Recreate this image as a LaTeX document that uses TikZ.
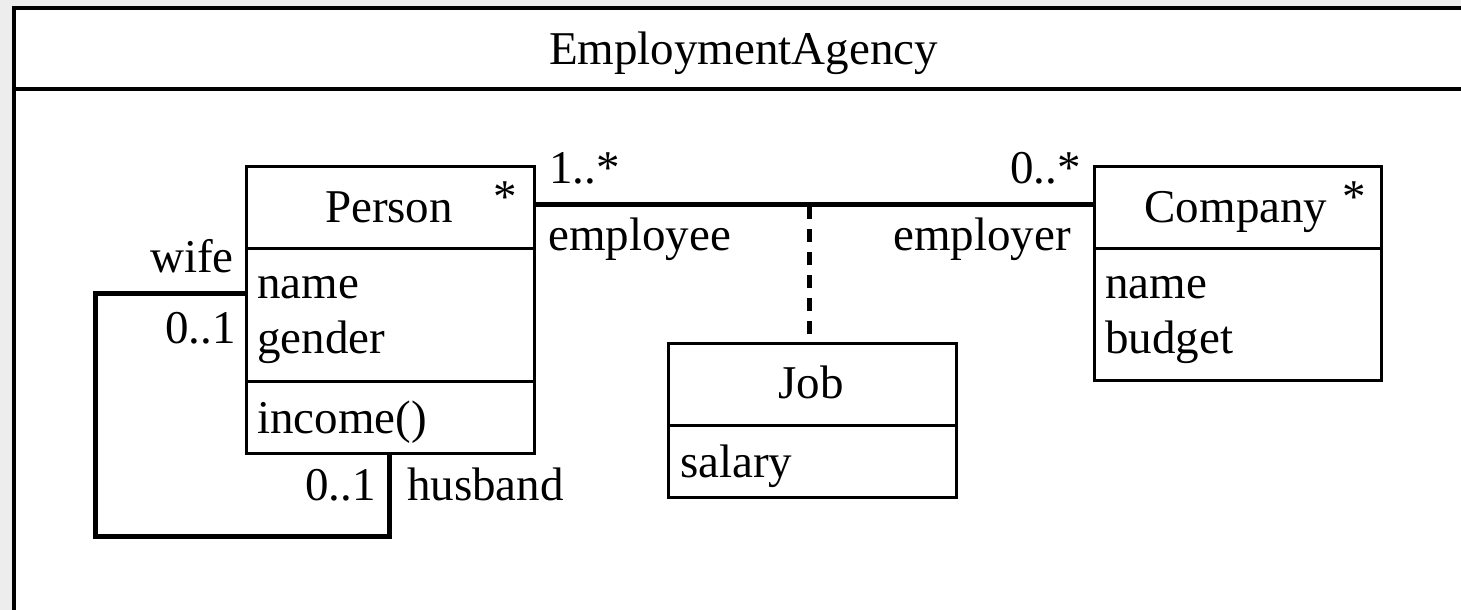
\documentclass[tikz,border=0pt]{standalone}
\usepackage{fontspec}
\setmainfont{Liberation Serif}

\begin{document}
\begin{tikzpicture}[x=1pt,y=-1pt,
  font=\fontsize{47}{56}\selectfont,
  comp/.style={draw, line width=3.2pt, inner sep=0pt, anchor=north west},
  classname/.style={anchor=base, inner sep=0pt},
  attr/.style={anchor=base west, inner sep=0pt},
  endlbl/.style={inner sep=0pt},
  assoc/.style={line width=5pt},
  loopline/.style={line width=5pt, line join=miter},
  attachline/.style={line width=5pt, dash pattern=on 13pt off 10pt},
  framestroke/.style={line width=4pt}]

\useasboundingbox (0,0) rectangle (1461,610);

% sheet and diagram frame
\fill[black!7] (0,0) rectangle (1461,610);
\fill[white] (13.5,8) rectangle (1470,620);
\draw[framestroke] (1470,8) -- (13.5,8) -- (13.5,620);
\draw[framestroke] (13.5,89) -- (1470,89);
\node[classname] (agency) at (743.5,65) {EmploymentAgency};

% class Person
\node[comp, minimum width=288pt, minimum height=81.5pt] (personhead) at (245,165) {};
\node[comp, minimum width=288pt, minimum height=133.5pt] (personattr) at (245,246.5) {};
\node[comp, minimum width=288pt, minimum height=72pt] (personops) at (245,380) {};
\node[classname] (personname) at (389,222) {Person};
\node[classname] (personstar) at (505,212) {*};
\node[attr] (personname1) at (257,298) {name};
\node[attr] (persongender) at (257,353) {gender};
\node[attr] (personincome) at (257,433) {income()};

% class Company
\node[comp, minimum width=287pt, minimum height=82pt] (companyhead) at (1093,165) {};
\node[comp, minimum width=287pt, minimum height=132pt] (companyattr) at (1093,247) {};
\node[classname] (companyname) at (1236,222) {Company};
\node[classname] (companystar) at (1354,212) {*};
\node[attr] (companyname1) at (1105,298) {name};
\node[attr] (companybudget) at (1105,353) {budget};

% association class Job
\node[comp, minimum width=288pt, minimum height=82pt] (jobhead) at (667,342) {};
\node[comp, minimum width=288pt, minimum height=72pt] (jobattr) at (667,424) {};
\node[classname] (jobname) at (811,398) {Job};
\node[attr] (jobsalary) at (680,477) {salary};

% employment association and its class attachment
\draw[assoc] (personhead.east |- 0,204) -- (companyhead.west |- 0,204);
\draw[attachline] (809,206) -- (809,0 |- jobhead.north);

% marriage self-association
\draw[loopline] (personattr.west |- 0,293) -- (95,293) -- (95,536) -- (389,536)
  -- (389,0 |- personops.south);

% association end labels
\node[endlbl, anchor=base west] (emult) at (549,183) {1..*};
\node[endlbl, anchor=base west] (erole) at (548,250) {employee};
\node[endlbl, anchor=base east] (rmult) at (1081,183) {0..*};
\node[endlbl, anchor=base east] (rrole) at (1071,250) {employer};
\node[endlbl, anchor=base east] (wrole) at (234,272) {wife};
\node[endlbl, anchor=base east] (wmult) at (236,343) {0..1};
\node[endlbl, anchor=base east] (hmult) at (376,500) {0..1};
\node[endlbl, anchor=base west] (hrole) at (407,500) {husband};
\end{tikzpicture}
\end{document}
